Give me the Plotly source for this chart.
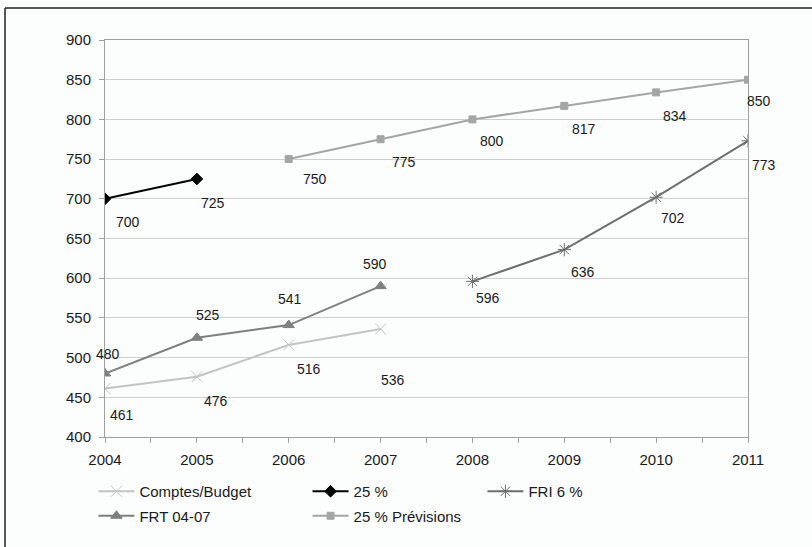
import plotly.graph_objects as go

years = [2004, 2005, 2006, 2007, 2008, 2009, 2010, 2011]

comptes_x = [2004, 2005, 2006, 2007]
comptes_y = [461, 476, 516, 536]

pct25_x = [2004, 2005]
pct25_y = [700, 725]

fri_x = [2008, 2009, 2010, 2011]
fri_y = [596, 636, 702, 773]

frt_x = [2004, 2005, 2006, 2007]
frt_y = [480, 525, 541, 590]

prev_x = [2006, 2007, 2008, 2009, 2010, 2011]
prev_y = [750, 775, 800, 817, 834, 850]

y_ticks = [400, 450, 500, 550, 600, 650, 700, 750, 800, 850, 900]

# label offsets (pixels) for data labels
comptes_off = [(17, 26), (19, 24), (20, 24), (12, 51)]
pct25_off = [(23, 23), (16, 24)]
fri_off = [(16, 17), (19, 22), (17, 21), (16, 24)]
frt_off = [(3, -19), (11, -23), (1, -26), (-6, -22)]
prev_off = [(26, 20), (23, 23), (20, 22), (20, 23), (19, 24), (11, 21)]

FONT = "Liberation Sans, Arial, sans-serif"
TXT = "#1a1a1a"

series = [
    ("Comptes/Budget", comptes_x, comptes_y, "#c3c3c3", "x-thin-open", 11, comptes_off, "legend"),
    ("25 %", pct25_x, pct25_y, "#000000", "diamond", 9, pct25_off, "legend2"),
    ("FRI 6 %", fri_x, fri_y, "#6e6e6e", "asterisk-open", 11, fri_off, "legend3"),
    ("FRT 04-07", frt_x, frt_y, "#7f7f7f", "triangle-up", 10, frt_off, "legend"),
    ("25 % Prévisions", prev_x, prev_y, "#a5a5a5", "square", 7, prev_off, "legend2"),
]

fig = go.Figure()
annotations = []
for i, (name, xs, ys, col, sym, sz, offs, lg) in enumerate(series):
    fig.add_trace(go.Scatter(
        x=xs, y=ys, name=name, mode="lines+markers",
        line=dict(color=col, width=2),
        marker=dict(symbol=sym, size=sz, color=col, line=dict(color=col, width=1)),
        legend=lg, legendgroup=name,
    ))
    for x, y, (dx, dy) in zip(xs, ys, offs):
        annotations.append(dict(
            x=x, y=y, text=str(y), showarrow=False, xref="x", yref="y",
            xshift=dx, yshift=-dy, font=dict(family=FONT, size=14, color=TXT),
        ))

# outer frame (top and left edges visible)
shapes = [
    dict(type="line", xref="paper", yref="paper", x0=-0.1555, x1=1.2, y0=1.0806, y1=1.0806,
         line=dict(color="#222222", width=1.5)),
    dict(type="line", xref="paper", yref="paper", x0=-0.1555, x1=-0.1555, y0=1.0806, y1=-0.3,
         line=dict(color="#222222", width=1.5)),
]

legend_common = dict(
    orientation="v", yanchor="top", xanchor="left", y=-0.0957,
    font=dict(family=FONT, size=15, color=TXT),
    bgcolor="rgba(0,0,0,0)", tracegroupgap=2, itemwidth=36,
)

fig.update_layout(
    width=812, height=547,
    margin=dict(l=105, r=64, t=40, b=110, autoexpand=False),
    paper_bgcolor="#fcfdfd", plot_bgcolor="#fcfdfd",
    showlegend=True,
    legend=dict(x=-0.018, **legend_common),
    legend2=dict(x=0.315, **legend_common),
    legend3=dict(x=0.587, **legend_common),
    annotations=annotations,
    shapes=shapes,
    xaxis=dict(
        range=[2004, 2011], tickvals=years, ticktext=[str(y) for y in years],
        ticks="", showgrid=False, zeroline=False, ticklabelstandoff=9,
        showline=True, linecolor="#a0a0a0", linewidth=1, mirror=True,
        tickfont=dict(family=FONT, size=15, color=TXT),
        minor=dict(tick0=2004, dtick=0.5, ticks="outside", ticklen=5, tickcolor="#a0a0a0", showgrid=False),
    ),
    yaxis=dict(
        range=[400, 900], tickvals=y_ticks, ticks="outside", ticklen=5, tickcolor="#a0a0a0",
        showgrid=True, gridcolor="#cfcfcf", gridwidth=1, zeroline=False, ticklabelstandoff=5,
        showline=True, linecolor="#a0a0a0", linewidth=1, mirror=True,
        tickfont=dict(family=FONT, size=15, color=TXT),
    ),
)

fig.write_html("out.html", config={"displayModeBar": False},
               post_script="document.body.style.margin='0px';")
